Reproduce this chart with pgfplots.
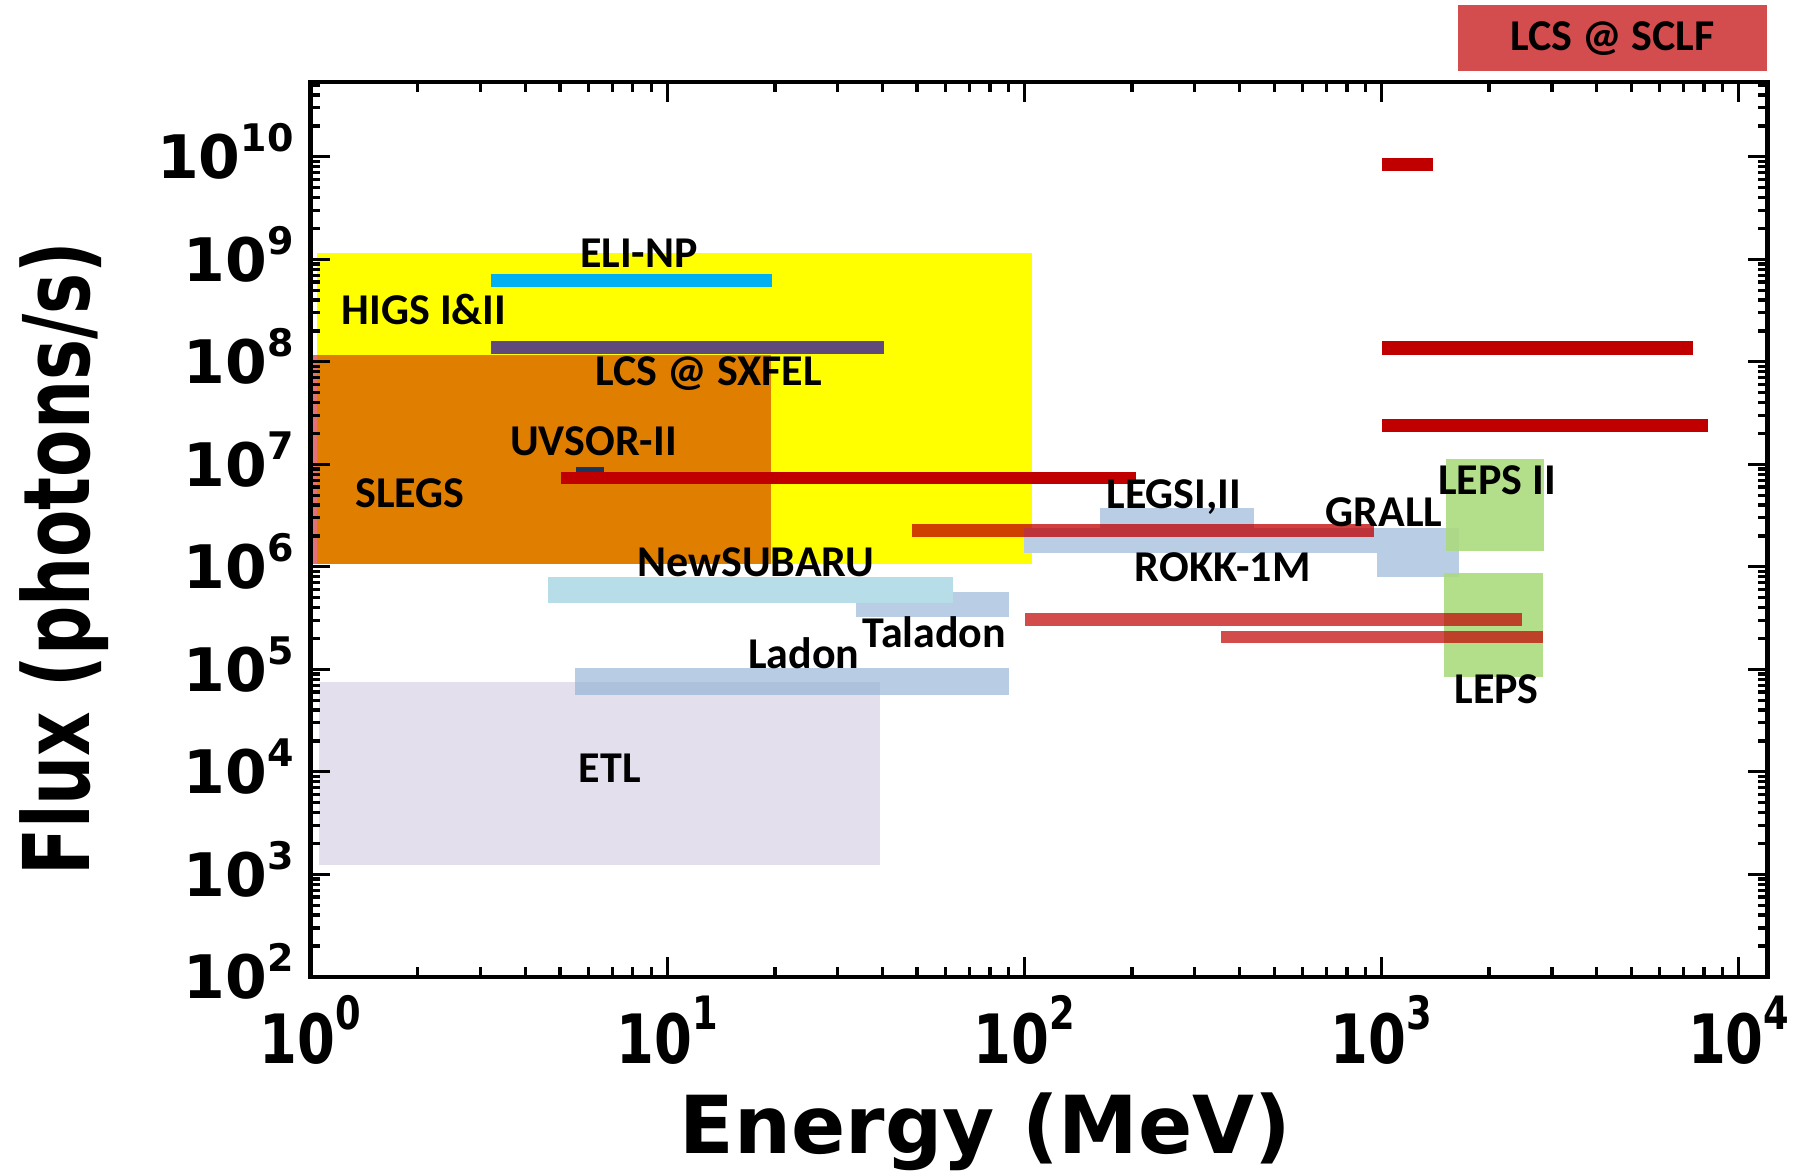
\documentclass[border=0pt]{standalone}
\usepackage{pgfplots}
\pgfplotsset{compat=1.18}
\usepackage{graphicx}
\usepackage{fontspec}
\setmainfont{Carlito}
\newfontfamily\djv{DejaVu Sans}
\definecolor{higsY}{RGB}{255,255,0}
\definecolor{slegsO}{RGB}{224,126,0}
\definecolor{slegsP}{RGB}{226,112,118}
\definecolor{eliC}{RGB}{0,176,240}
\definecolor{sxfelP}{RGB}{96,74,123}
\definecolor{uvsorN}{RGB}{23,55,94}
\definecolor{darkred}{RGB}{192,0,0}
\definecolor{lightred}{RGB}{211,76,78}
\definecolor{steelb}{RGB}{185,205,229}
\definecolor{ladonb}{RGB}{142,174,212}
\definecolor{subaru}{RGB}{183,221,232}
\definecolor{etl}{RGB}{228,223,236}
\definecolor{lepsg}{RGB}{171,218,125}
\newcommand{\xtl}[1]{\scalebox{0.8}[1]{\djv\bfseries\fontsize{17}{17}\selectfont 10\raisebox{0.5em}{\fontsize{11.5}{11.5}\selectfont #1}}}
\newcommand{\ytl}[1]{{\djv\bfseries\fontsize{15}{15}\selectfont 10\raisebox{0.45em}{\fontsize{9.5}{9.5}\selectfont #1}}}
\begin{document}
\begin{tikzpicture}
\path[use as bounding box] (-77.6pt,-48.8pt) rectangle (373.15pt,244.2pt);
\begin{axis}[
  at={(0pt,0pt)}, anchor=south west,
  scale only axis, width=364.3pt, height=223.7pt,
  xmode=log, ymode=log,
  xmin=1, xmax=12050, ymin=100, ymax=5.36e10,
  xtick={1,10,100,1000,10000},
  xticklabels={\xtl{0},\xtl{1},\xtl{2},\xtl{3},\xtl{4}},
  ytick={1e2,1e3,1e4,1e5,1e6,1e7,1e8,1e9,1e10},
  yticklabels={\ytl{2},\ytl{3},\ytl{4},\ytl{5},\ytl{6},\ytl{7},\ytl{8},\ytl{9},\ytl{10}},
  minor xtick={2,3,4,5,6,7,8,9,20,30,40,50,60,70,80,90,200,300,400,500,600,700,800,900,2000,3000,4000,5000,6000,7000,8000,9000},
  minor ytick={2e2,3e2,4e2,5e2,6e2,7e2,8e2,9e2,2e3,3e3,4e3,5e3,6e3,7e3,8e3,9e3,2e4,3e4,4e4,5e4,6e4,7e4,8e4,9e4,2e5,3e5,4e5,5e5,6e5,7e5,8e5,9e5,2e6,3e6,4e6,5e6,6e6,7e6,8e6,9e6,2e7,3e7,4e7,5e7,6e7,7e7,8e7,9e7,2e8,3e8,4e8,5e8,6e8,7e8,8e8,9e8,2e9,3e9,4e9,5e9,6e9,7e9,8e9,9e9,2e10,3e10,4e10,5e10},
  tick align=inside, major tick length=5pt, minor tick length=2.5pt,
  every tick/.style={black, line width=0.8pt},
  axis line style={line width=1.1pt},
  xticklabel style={anchor=base, inner sep=0pt, yshift=-21.75pt},
  yticklabel style={anchor=base east, inner sep=0pt, xshift=-4pt, yshift=-5.5pt},
  axis on top,
  every axis plot/.append style={draw=none, mark=none},
]
% large areas
\addplot[fill=higsY] coordinates {(1.045,1.06e6) (105,1.06e6) (105,1.14e9) (1.045,1.14e9)};
\addplot[fill=slegsO] coordinates {(1.045,1.06e6) (19.5,1.06e6) (19.5,1.16e8) (1.045,1.16e8)};
\addplot[fill=slegsP] coordinates {(1,1.06e6) (1.045,1.06e6) (1.045,1.16e8) (1,1.16e8)};
% ELI-NP, SXFEL
\addplot[fill=eliC] coordinates {(3.2,5.32e8) (19.6,5.32e8) (19.6,7.18e8) (3.2,7.18e8)};
\addplot[fill=sxfelP] coordinates {(3.2,1.19e8) (40.4,1.19e8) (40.4,1.60e8) (3.2,1.60e8)};
% UVSOR-II
\addplot[fill=uvsorN] coordinates {(5.56,8.2e6) (6.64,8.2e6) (6.64,9.44e6) (5.56,9.44e6)};
\addplot[fill=darkred] coordinates {(5.03,6.37e6) (205,6.37e6) (205,8.45e6) (5.03,8.45e6)};
% Taladon, NewSUBARU
\addplot[fill=steelb] coordinates {(33.7,3.23e5) (90.6,3.23e5) (90.6,5.7e5) (33.7,5.7e5)};
\addplot[fill=subaru] coordinates {(4.62,4.47e5) (63.2,4.47e5) (63.2,7.9e5) (4.62,7.9e5)};
% ETL, Ladon
\addplot[fill=etl] coordinates {(1.06,1.22e3) (39.5,1.22e3) (39.5,7.57e4) (1.06,7.57e4)};
\addplot[fill=ladonb, fill opacity=0.63] coordinates {(5.5,5.6e4) (90.6,5.6e4) (90.6,1.02e5) (5.5,1.02e5)};
% LEGS I,II, ROKK-1M, GRALL
\addplot[fill=steelb] coordinates {(163,2.3e6) (440,2.3e6) (440,3.72e6) (163,3.72e6)};
\addplot[fill=steelb] coordinates {(99.5,1.35e6) (1645,1.35e6) (1645,2.41e6) (99.5,2.41e6)};
\addplot[fill=steelb] coordinates {(973,8.0e5) (1645,8.0e5) (1645,2.41e6) (973,2.41e6)};
\addplot[fill=darkred, fill opacity=0.75] coordinates {(48.3,1.94e6) (955,1.94e6) (955,2.59e6) (48.3,2.59e6)};
% LEPS II, LEPS
\addplot[fill=lepsg, fill opacity=0.9] coordinates {(1517,1.43e6) (2855,1.43e6) (2855,1.12e7) (1517,1.12e7)};
\addplot[fill=lepsg, fill opacity=0.9] coordinates {(1500,8.45e4) (2840,8.45e4) (2840,8.75e5) (1500,8.75e5)};
\addplot[fill=darkred, fill opacity=0.7] coordinates {(100,2.64e5) (2478,2.64e5) (2478,3.51e5) (100,3.51e5)};
\addplot[fill=darkred, fill opacity=0.7] coordinates {(354,1.79e5) (2838,1.79e5) (2838,2.36e5) (354,2.36e5)};
% LCS @ SCLF
\addplot[fill=darkred] coordinates {(1000,7.19e9) (1390,7.19e9) (1390,9.82e9) (1000,9.82e9)};
\addplot[fill=darkred] coordinates {(1000,1.16e8) (7430,1.16e8) (7430,1.60e8) (1000,1.60e8)};
\addplot[fill=darkred] coordinates {(1000,2.05e7) (8180,2.05e7) (8180,2.74e7) (1000,2.74e7)};
% labels
\begin{scope}[every node/.style={font=\bfseries\fontsize{11}{11}\selectfont, inner sep=0pt, text height=7pt, text depth=0pt}]
\node at (axis cs:2.08,3.14e8) {HIGS I\&II};
\node at (axis cs:8.32,1.13e9) {ELI-NP};
\node at (axis cs:13.05,7.95e7) {LCS @ SXFEL};
\node at (axis cs:6.21,1.67e7) {UVSOR-II};
\node at (axis cs:1.90,5.2e6) {SLEGS};
\node at (axis cs:17.7,1.09e6) {NewSUBARU};
\node at (axis cs:262,5.1e6) {LEGSI,II};
\node at (axis cs:1016,3.4e6) {GRALL};
\node at (axis cs:2105,6.97e6) {LEPS II};
\node at (axis cs:359,9.9e5) {ROKK-1M};
\node at (axis cs:55.9,2.25e5) {Taladon};
\node at (axis cs:24.1,1.38e5) {Ladon};
\node at (axis cs:2099,6.31e4) {LEPS};
\node at (axis cs:6.90,1.08e4) {ETL};
\end{scope}
\end{axis}
\node[fill=lightred, minimum width=77.25pt, minimum height=16.5pt, anchor=south east, inner sep=0pt, font=\bfseries\fontsize{11}{11}\selectfont] at ([yshift=2.5pt]current axis.north east) {LCS @ SCLF};
\node[rotate=90, anchor=base] at (-55.1pt,104.5pt) {\scalebox{0.75}[1]{\djv\bfseries\fontsize{23}{23}\selectfont Flux (photons/s)}};
\node[anchor=base] at (168.8pt,-44.1pt) {\djv\bfseries\fontsize{20}{20}\selectfont Energy (MeV)};
\end{tikzpicture}
\end{document}
